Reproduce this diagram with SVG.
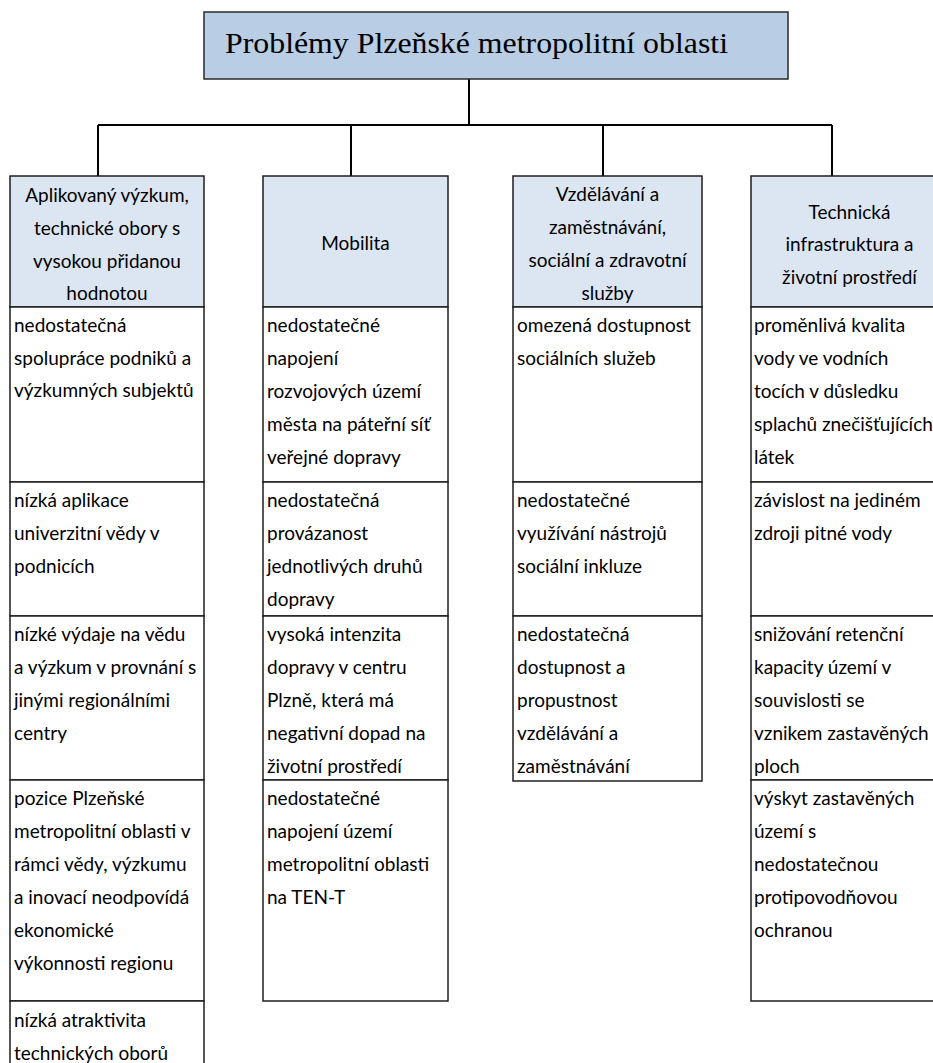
<svg xmlns="http://www.w3.org/2000/svg" width="933" height="1063" viewBox="0 0 933 1063">
  <style>
    .bg { fill: #ffffff; }
    .title-box { fill: #b9cde5; stroke: #2a2a2a; stroke-width: 1.5; }
    .title { font-family: "Liberation Serif", "Times New Roman", serif; font-size: 30px; fill: #000; }
    .head { fill: #dce6f2; stroke: #1e1e1e; stroke-width: 1.5; }
    .cell { fill: #ffffff; stroke: #1e1e1e; stroke-width: 1.5; }
    .ht { font-family: Lato, "Liberation Sans", sans-serif; font-size: 19px; fill: #000; text-anchor: middle; }
    .bt { font-family: Lato, "Liberation Sans", sans-serif; font-size: 19px; fill: #000; }
    .conn { fill: none; stroke: #000; stroke-width: 2; }
  </style>
  <rect class="bg" x="0" y="0" width="933" height="1063"/>

  <!-- connectors: root to the four columns -->
  <g id="connectors">
    <path class="conn" d="M469 79 V125"/>
    <path class="conn" d="M98 125 H832"/>
    <path class="conn" d="M98 125 V176"/>
    <path class="conn" d="M351 125 V176"/>
    <path class="conn" d="M603 125 V176"/>
    <path class="conn" d="M832 125 V176"/>
  </g>

  <!-- root -->
  <g id="root">
    <rect class="title-box" x="204" y="12" width="584" height="67"/>
    <text class="title" x="225" y="53" textLength="503" lengthAdjust="spacingAndGlyphs">Problémy Plzeňské metropolitní oblasti</text>
  </g>

  <!-- column 1 -->
  <g id="col-vyzkum">
    <rect class="head" x="10" y="176" width="194" height="131"/>
    <text class="ht" x="107" y="202">Aplikovaný výzkum,</text>
    <text class="ht" x="107" y="235">technické obory s</text>
    <text class="ht" x="107" y="268">vysokou přidanou</text>
    <text class="ht" x="107" y="300">hodnotou</text>
  </g>
  <g id="c1-r1">
    <rect class="cell" x="10" y="307" width="194" height="175"/>
    <text class="bt" x="14" y="332">nedostatečná</text>
    <text class="bt" x="14" y="365">spolupráce podniků a</text>
    <text class="bt" x="14" y="397">výzkumných subjektů</text>
  </g>
  <g id="c1-r2">
    <rect class="cell" x="10" y="482" width="194" height="134"/>
    <text class="bt" x="14" y="507">nízká aplikace</text>
    <text class="bt" x="14" y="540">univerzitní vědy v</text>
    <text class="bt" x="14" y="573">podnicích</text>
  </g>
  <g id="c1-r3">
    <rect class="cell" x="10" y="616" width="194" height="164"/>
    <text class="bt" x="14" y="641">nízké výdaje na vědu</text>
    <text class="bt" x="14" y="674">a výzkum v provnání s</text>
    <text class="bt" x="14" y="707">jinými regionálními</text>
    <text class="bt" x="14" y="740">centry</text>
  </g>
  <g id="c1-r4">
    <rect class="cell" x="10" y="780" width="194" height="221"/>
    <text class="bt" x="14" y="805">pozice Plzeňské</text>
    <text class="bt" x="14" y="838">metropolitní oblasti v</text>
    <text class="bt" x="14" y="871">rámci vědy, výzkumu</text>
    <text class="bt" x="14" y="904">a inovací neodpovídá</text>
    <text class="bt" x="14" y="937">ekonomické</text>
    <text class="bt" x="14" y="970">výkonnosti regionu</text>
  </g>
  <g id="c1-r5">
    <rect class="cell" x="10" y="1001" width="194" height="80"/>
    <text class="bt" x="14" y="1027">nízká atraktivita</text>
    <text class="bt" x="14" y="1060">technických oborů</text>
  </g>

  <!-- column 2 -->
  <g id="col-mobilita">
    <rect class="head" x="263" y="176" width="185" height="131"/>
    <text class="ht" x="355.5" y="250">Mobilita</text>
  </g>
  <g id="c2-r1">
    <rect class="cell" x="263" y="307" width="185" height="175"/>
    <text class="bt" x="267" y="332">nedostatečné</text>
    <text class="bt" x="267" y="365">napojení</text>
    <text class="bt" x="267" y="398">rozvojových území</text>
    <text class="bt" x="267" y="431">města na páteřní síť</text>
    <text class="bt" x="267" y="464">veřejné dopravy</text>
  </g>
  <g id="c2-r2">
    <rect class="cell" x="263" y="482" width="185" height="134"/>
    <text class="bt" x="267" y="507">nedostatečná</text>
    <text class="bt" x="267" y="540">provázanost</text>
    <text class="bt" x="267" y="573">jednotlivých druhů</text>
    <text class="bt" x="267" y="606">dopravy</text>
  </g>
  <g id="c2-r3">
    <rect class="cell" x="263" y="616" width="185" height="164"/>
    <text class="bt" x="267" y="641">vysoká intenzita</text>
    <text class="bt" x="267" y="674">dopravy v centru</text>
    <text class="bt" x="267" y="707">Plzně, která má</text>
    <text class="bt" x="267" y="740">negativní dopad na</text>
    <text class="bt" x="267" y="773">životní prostředí</text>
  </g>
  <g id="c2-r4">
    <rect class="cell" x="263" y="780" width="185" height="221"/>
    <text class="bt" x="267" y="805">nedostatečné</text>
    <text class="bt" x="267" y="838">napojení území</text>
    <text class="bt" x="267" y="871">metropolitní oblasti</text>
    <text class="bt" x="267" y="904">na TEN-T</text>
  </g>

  <!-- column 3 -->
  <g id="col-vzdelavani">
    <rect class="head" x="513" y="176" width="189" height="131"/>
    <text class="ht" x="607.5" y="201">Vzdělávání a</text>
    <text class="ht" x="607.5" y="234">zaměstnávání,</text>
    <text class="ht" x="607.5" y="267">sociální a zdravotní</text>
    <text class="ht" x="607.5" y="300">služby</text>
  </g>
  <g id="c3-r1">
    <rect class="cell" x="513" y="307" width="189" height="175"/>
    <text class="bt" x="517" y="332">omezená dostupnost</text>
    <text class="bt" x="517" y="365">sociálních služeb</text>
  </g>
  <g id="c3-r2">
    <rect class="cell" x="513" y="482" width="189" height="134"/>
    <text class="bt" x="517" y="507">nedostatečné</text>
    <text class="bt" x="517" y="540">využívání nástrojů</text>
    <text class="bt" x="517" y="573">sociální inkluze</text>
  </g>
  <g id="c3-r3">
    <rect class="cell" x="513" y="616" width="189" height="165"/>
    <text class="bt" x="517" y="641">nedostatečná</text>
    <text class="bt" x="517" y="674">dostupnost a</text>
    <text class="bt" x="517" y="707">propustnost</text>
    <text class="bt" x="517" y="740">vzdělávání a</text>
    <text class="bt" x="517" y="773">zaměstnávání</text>
  </g>

  <!-- column 4 -->
  <g id="col-infrastruktura">
    <rect class="head" x="751" y="176" width="197" height="131"/>
    <text class="ht" x="849.5" y="219">Technická</text>
    <text class="ht" x="849.5" y="251">infrastruktura a</text>
    <text class="ht" x="849.5" y="284">životní prostředí</text>
  </g>
  <g id="c4-r1">
    <rect class="cell" x="751" y="307" width="197" height="175"/>
    <text class="bt" x="754" y="332">proměnlivá kvalita</text>
    <text class="bt" x="754" y="365">vody ve vodních</text>
    <text class="bt" x="754" y="398">tocích v důsledku</text>
    <text class="bt" x="754" y="431">splachů znečišťujících</text>
    <text class="bt" x="754" y="464">látek</text>
  </g>
  <g id="c4-r2">
    <rect class="cell" x="751" y="482" width="197" height="134"/>
    <text class="bt" x="754" y="507">závislost na jediném</text>
    <text class="bt" x="754" y="540">zdroji pitné vody</text>
  </g>
  <g id="c4-r3">
    <rect class="cell" x="751" y="616" width="197" height="164"/>
    <text class="bt" x="754" y="641">snižování retenční</text>
    <text class="bt" x="754" y="674">kapacity území v</text>
    <text class="bt" x="754" y="707">souvislosti se</text>
    <text class="bt" x="754" y="740">vznikem zastavěných</text>
    <text class="bt" x="754" y="773">ploch</text>
  </g>
  <g id="c4-r4">
    <rect class="cell" x="751" y="780" width="197" height="221"/>
    <text class="bt" x="754" y="805">výskyt zastavěných</text>
    <text class="bt" x="754" y="838">území s</text>
    <text class="bt" x="754" y="871">nedostatečnou</text>
    <text class="bt" x="754" y="904">protipovodňovou</text>
    <text class="bt" x="754" y="937">ochranou</text>
  </g>
</svg>
